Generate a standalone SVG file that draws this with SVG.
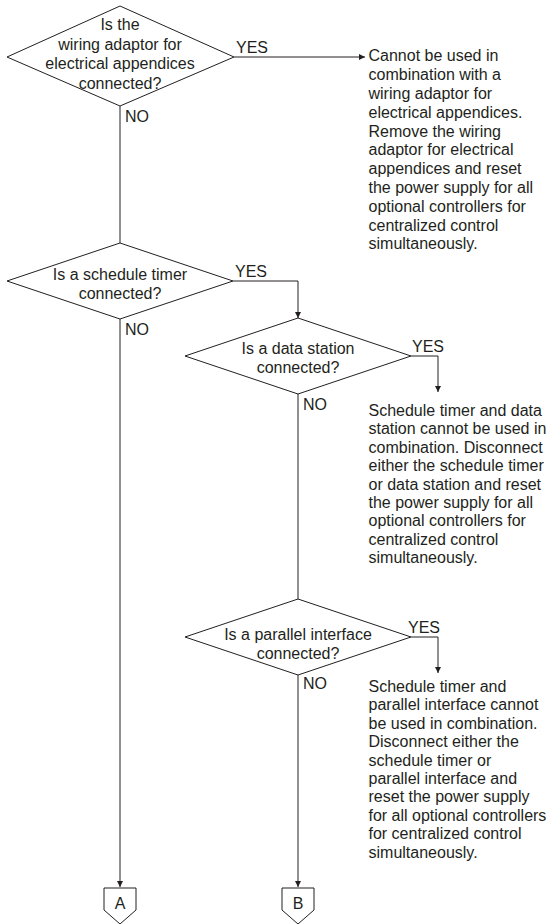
<svg xmlns="http://www.w3.org/2000/svg" width="548" height="924" viewBox="0 0 548 924">
<style>
.s{fill:none;stroke:#231f20;stroke-width:1}
.d{fill:#fff;stroke:#231f20;stroke-width:1}
text{font-family:"Liberation Sans",Arial,sans-serif;font-size:16px;fill:#231f20}
.c{text-anchor:middle}
</style>
<defs>
<marker id="ah" viewBox="0 0 10 10" refX="10" refY="5" markerWidth="8" markerHeight="6" markerUnits="userSpaceOnUse" orient="auto">
<path d="M0,0 L10,5 L0,10 z" fill="#231f20"/>
</marker>
</defs>
<g id="connectors">
<line class="s" x1="234" y1="57" x2="365" y2="57" marker-end="url(#ah)"/>
<line class="s" x1="120" y1="106" x2="120" y2="243"/>
<polyline class="s" points="233,281 298,281 298,318" marker-end="url(#ah)"/>
<line class="s" x1="120" y1="319" x2="120" y2="887" marker-end="url(#ah)"/>
<polyline class="s" points="411,356 438,356 438,392" marker-end="url(#ah)"/>
<line class="s" x1="298" y1="394" x2="298" y2="599"/>
<polyline class="s" points="411,637 438,637 438,673" marker-end="url(#ah)"/>
<line class="s" x1="298" y1="675" x2="298" y2="887" marker-end="url(#ah)"/>
<text x="236" y="53">YES</text>
<text x="125" y="122">NO</text>
<text x="235" y="277">YES</text>
<text x="125" y="335">NO</text>
<text x="412" y="352">YES</text>
<text x="303" y="410">NO</text>
<text x="408" y="633">YES</text>
<text x="303" y="689">NO</text>
</g>
<g id="q1">
<polygon class="d" points="7,57 120,6 234,57 120,106"/>
<text class="c" x="120" y="30">Is the</text>
<text class="c" x="120" y="49.5">wiring adaptor for</text>
<text class="c" x="120" y="69">electrical appendices</text>
<text class="c" x="120" y="88.5">connected?</text>
</g>
<g id="r1">
<text x="368.5" y="61.3">Cannot be used in</text>
<text x="368.5" y="80.1">combination with a</text>
<text x="368.5" y="98.9">wiring adaptor for</text>
<text x="368.5" y="117.7">electrical appendices.</text>
<text x="368.5" y="136.5">Remove the wiring</text>
<text x="368.5" y="155.3">adaptor for electrical</text>
<text x="368.5" y="174.1">appendices and reset</text>
<text x="368.5" y="192.9">the power supply for all</text>
<text x="368.5" y="211.7">optional controllers for</text>
<text x="368.5" y="230.5">centralized control</text>
<text x="368.5" y="249.3">simultaneously.</text>
</g>
<g id="q2">
<polygon class="d" points="7,281 120,243 233,281 120,319"/>
<text class="c" x="120" y="280">Is a schedule timer</text>
<text class="c" x="120" y="299">connected?</text>
</g>
<g id="q3">
<polygon class="d" points="185,356 298,318 411,356 298,394"/>
<text class="c" x="298" y="354">Is a data station</text>
<text class="c" x="298" y="373">connected?</text>
</g>
<g id="r2">
<text x="368.5" y="416">Schedule timer and data</text>
<text x="368.5" y="434.4">station cannot be used in</text>
<text x="368.5" y="452.8">combination. Disconnect</text>
<text x="368.5" y="471.2">either the schedule timer</text>
<text x="368.5" y="489.6">or data station and reset</text>
<text x="368.5" y="508">the power supply for all</text>
<text x="368.5" y="526.4">optional controllers for</text>
<text x="368.5" y="544.8">centralized control</text>
<text x="368.5" y="563.2">simultaneously.</text>
</g>
<g id="q4">
<polygon class="d" points="185,637 298,599 411,637 298,675"/>
<text class="c" x="298" y="640">Is a parallel interface</text>
<text class="c" x="298" y="659">connected?</text>
</g>
<g id="r3">
<text x="368.5" y="692">Schedule timer and</text>
<text x="368.5" y="710.4">parallel interface cannot</text>
<text x="368.5" y="728.8">be used in combination.</text>
<text x="368.5" y="747.2">Disconnect either the</text>
<text x="368.5" y="765.6">schedule timer or</text>
<text x="368.5" y="784">parallel interface and</text>
<text x="368.5" y="802.4">reset the power supply</text>
<text x="368.5" y="820.8">for all optional controllers</text>
<text x="368.5" y="839.2">for centralized control</text>
<text x="368.5" y="857.6">simultaneously.</text>
</g>
<g id="A">
<polygon class="d" points="104,888 136,888 136,910 120,924 104,910"/>
<text class="c" x="120" y="909">A</text>
</g>
<g id="B">
<polygon class="d" points="282,888 314,888 314,910 298,924 282,910"/>
<text class="c" x="298" y="909">B</text>
</g>
</svg>
